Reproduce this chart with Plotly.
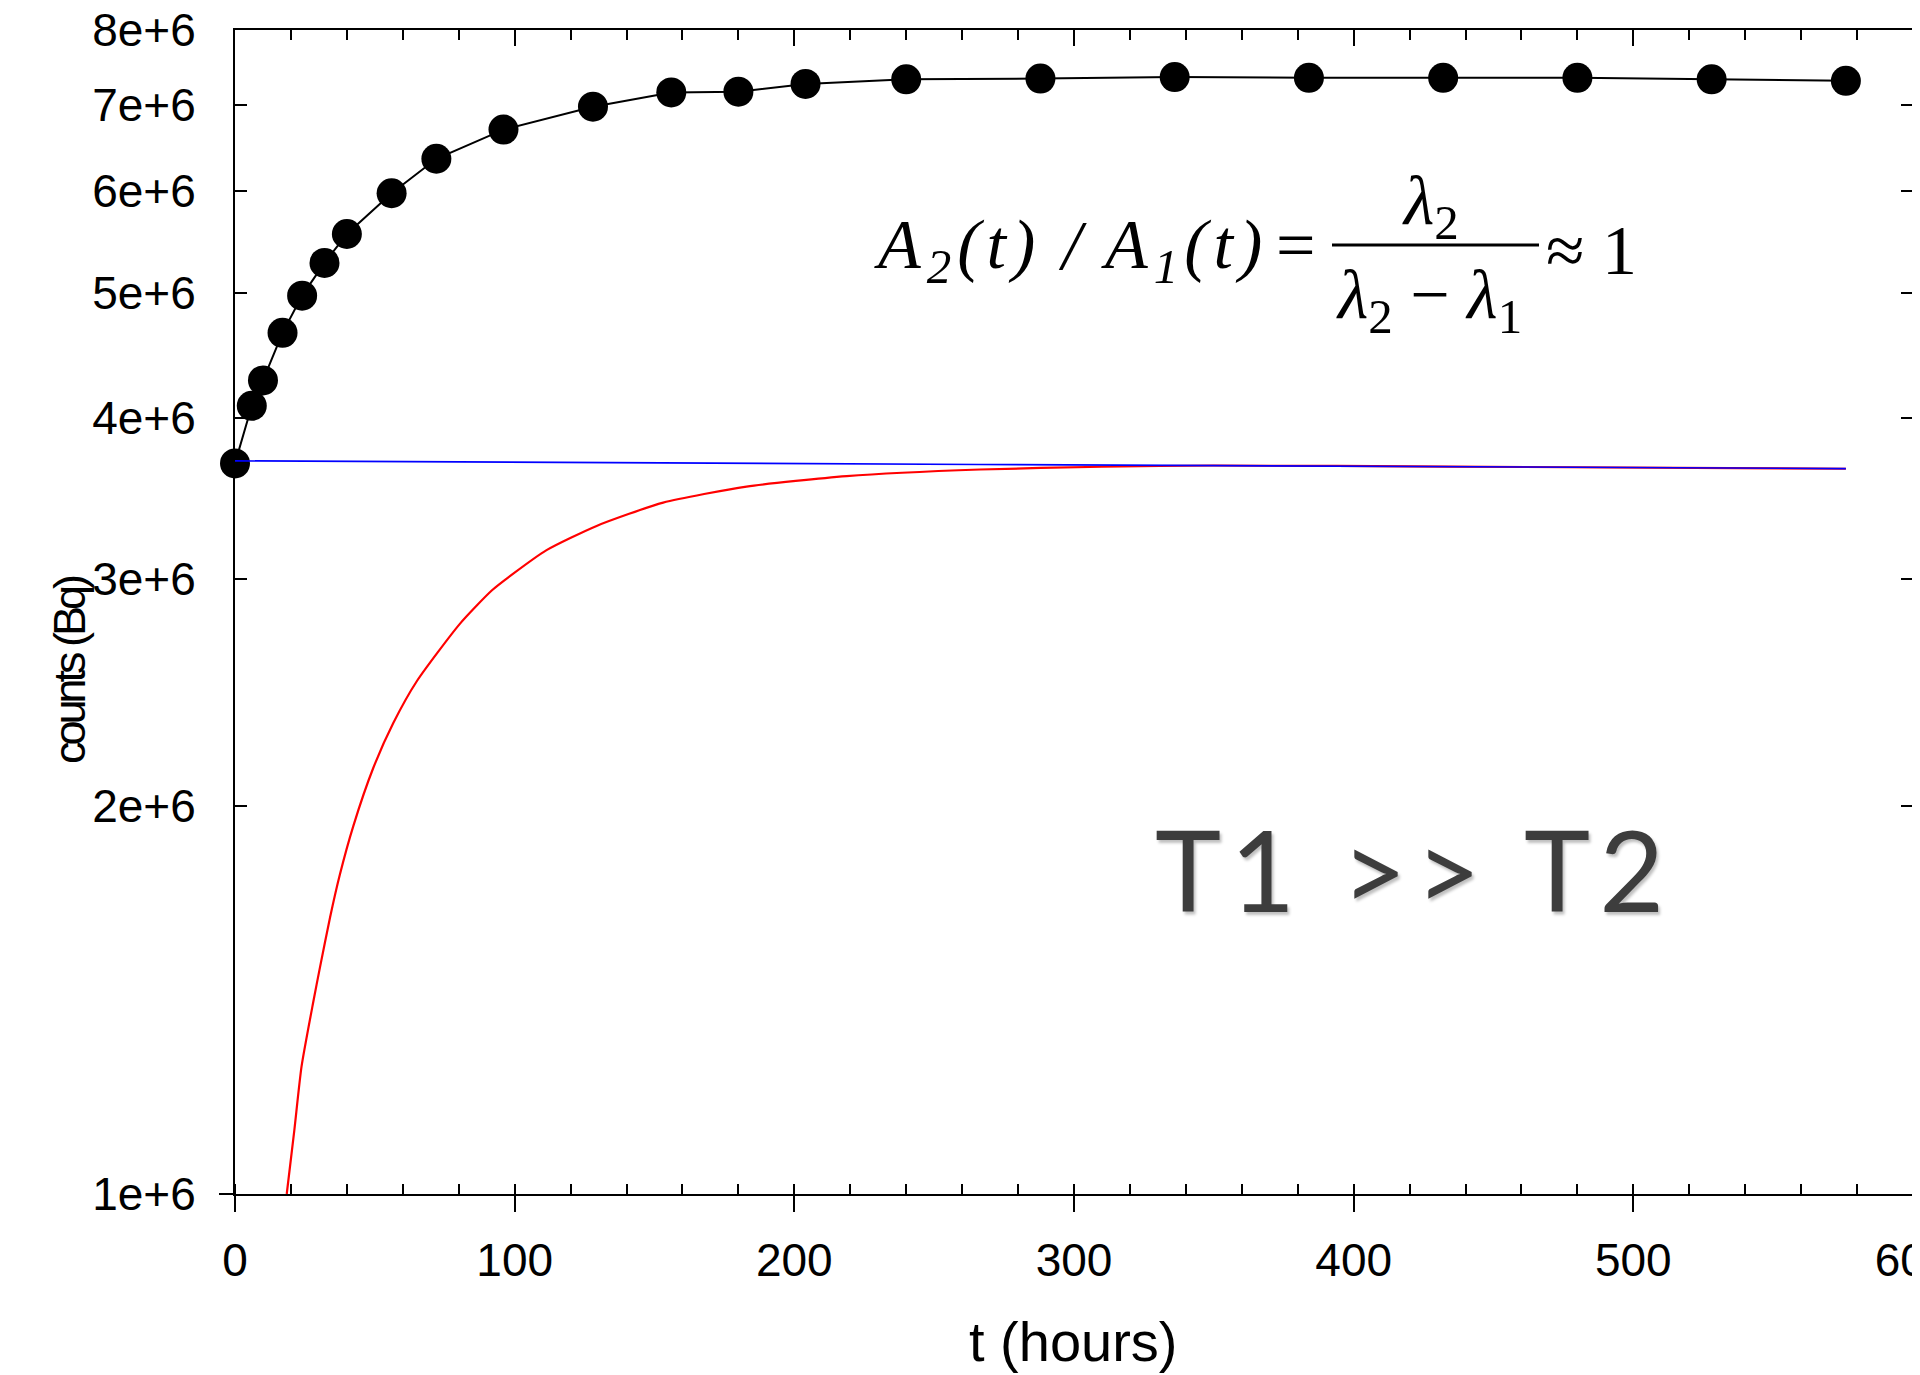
import math
import plotly.graph_objects as go

# ---------------- data ----------------
t_meas = [0, 6, 10, 17, 24, 32, 40, 56, 72, 96, 128, 156, 180, 204,
          240, 288, 336, 384, 432, 480, 528, 576]
counts_meas = [3.69e6, 4.09e6, 4.28e6, 4.66e6, 4.98e6, 5.28e6, 5.56e6, 5.98e6,
               6.36e6, 6.70e6, 6.98e6, 7.16e6, 7.17e6, 7.27e6, 7.33e6, 7.34e6,
               7.36e6, 7.35e6, 7.35e6, 7.35e6, 7.33e6, 7.31e6]

t_parent = [0, 88, 266, 576]
a_parent = [3.707e6, 3.700e6, 3.683e6, 3.656e6]

t_daughter = [18.5, 21.2, 23.8, 28.0, 30.4, 34.0, 37.5, 42.3, 49.4, 56.6, 65.0,
              80.4, 91.8, 99.5, 111.4, 129.3, 153.1, 182.9, 218.7, 266.4, 310,
              350, 434, 576]
a_daughter = [1.00e6, 1.12e6, 1.256e6, 1.41e6, 1.50e6, 1.64e6, 1.77e6, 1.93e6,
              2.14e6, 2.32e6, 2.50e6, 2.77e6, 2.94e6, 3.03e6, 3.16e6, 3.30e6,
              3.44e6, 3.54e6, 3.607e6, 3.65e6, 3.668e6, 3.676e6, 3.669e6, 3.655e6]

x_ticks = [0, 100, 200, 300, 400, 500, 600]
y_ticks = [1e6, 2e6, 3e6, 4e6, 5e6, 6e6, 7e6, 8e6]
y_ticktext = ["1e+6", "2e+6", "3e+6", "4e+6", "5e+6", "6e+6", "7e+6", "8e+6"]

# ---------------- layout geometry (page pixels; page body has 8px margin) ----
OFF = 8
W, H = 1912, 1367
L, R, T, B = 227, 7, 22, 181
PW, PH = W - L - R, H - T - B


def px(x):
    return (x - OFF - L) / PW


def py(y):
    return (OFF + H - B - y) / PH


fig = go.Figure()

fig.add_trace(go.Scatter(
    x=t_daughter, y=a_daughter, mode="lines",
    line=dict(color="#ff0000", width=2.2, shape="spline", smoothing=0.6),
    showlegend=False))
fig.add_trace(go.Scatter(
    x=t_parent, y=a_parent, mode="lines", xaxis="x2",
    line=dict(color="#0000ff", width=1.6), showlegend=False))
fig.add_trace(go.Scatter(
    x=t_meas, y=counts_meas, mode="lines+markers",
    line=dict(color="black", width=2),
    marker=dict(color="black", size=30), showlegend=False, cliponaxis=False))

tickfont = dict(family="Liberation Sans, Arial, sans-serif", size=46, color="black")

fig.update_layout(
    width=W, height=H, autosize=False,
    margin=dict(l=L, r=R, t=T, b=B, pad=0),
    paper_bgcolor="white", plot_bgcolor="white",
    xaxis=dict(
        range=[0, 600], tickvals=x_ticks, ticks="outside", ticklen=16, tickwidth=2,
        tickcolor="black", showline=True, linecolor="black", linewidth=2,
        showgrid=False, zeroline=False, tickfont=tickfont, ticklabelstandoff=9,
        ticklabeloverflow="allow", automargin=False,
        minor=dict(ticks="inside", ticklen=10, tickwidth=2, tickcolor="black",
                   dtick=20, tick0=0, showgrid=False),
    ),
    xaxis2=dict(
        range=[0, 600], overlaying="x", side="top", tickvals=x_ticks,
        ticks="inside", ticklen=16, tickwidth=2, tickcolor="black",
        showline=True, linecolor="black", linewidth=2, showgrid=False,
        zeroline=False, showticklabels=False, automargin=False,
        minor=dict(ticks="inside", ticklen=10, tickwidth=2, tickcolor="black",
                   dtick=20, tick0=0, showgrid=False),
    ),
    yaxis=dict(
        type="log", range=[6, math.log10(8e6) + 0.0003], tickvals=y_ticks,
        ticktext=y_ticktext,
        ticks="inside", ticklen=12, tickwidth=2, tickcolor="black",
        showline=True, linecolor="black", linewidth=2, mirror="ticks",
        showgrid=False, zeroline=False, tickfont=tickfont, ticklabelstandoff=28,
        ticklabeloverflow="allow", automargin=False,
    ),
)

serif = "Liberation Serif, Times New Roman, serif"
eq_size = 70
eqfont = dict(family=serif, size=eq_size, color="black")


def spaced(txt, sp):
    return '<span style="letter-spacing:%dpx">%s</span>' % (sp, txt)


annotations = [
    dict(x=px(69), y=py(670), text=spaced("counts (Bq)", -4), textangle=-90, showarrow=False,
         font=dict(family="Liberation Sans, Arial, sans-serif", size=45, color="black")),
    dict(x=px(1073), y=py(1341), text="t (hours)", showarrow=False,
         font=dict(family="Liberation Sans, Arial, sans-serif", size=56, color="black")),
    dict(x=px(957), y=py(250), text=spaced("<i>A<sub>2</sub>(t)</i>", 6), showarrow=False,
         font=eqfont),
    dict(x=px(1072), y=py(245), text="<i>/</i>", showarrow=False, font=eqfont),
    dict(x=px(1184), y=py(250), text=spaced("<i>A<sub>1</sub>(t)</i>", 6), showarrow=False,
         font=eqfont),
    dict(x=px(1295), y=py(245), text="=", showarrow=False, font=eqfont),
    dict(x=px(1430), y=py(206), text="<i>λ</i><sub>2</sub>", showarrow=False, font=eqfont),
    dict(x=px(1429), y=py(300), text="<i>λ</i><sub>2</sub> − <i>λ</i><sub>1</sub>",
         showarrow=False, font=eqfont),
    dict(x=px(1591), y=py(250), text="≈ 1", showarrow=False, font=eqfont),
    dict(x=px(1414), y=py(868), text=spaced("T1 >> T2", 9), showarrow=False,
         font=dict(family="Lato, Open Sans, sans-serif", size=112, color="#3d3d3d",
                   shadow="2px 3px 3px rgba(0,0,0,0.25)")),
]
for a in annotations:
    a.update(xref="paper", yref="paper", xanchor="center", yanchor="middle")
fig.update_layout(annotations=annotations)

fig.add_shape(type="line", xref="paper", yref="paper",
              x0=px(1332), x1=px(1539), y0=py(245), y1=py(245),
              line=dict(color="black", width=3))
# short outward tick at the 1e+6 label on the left axis
fig.add_shape(type="line", xref="paper", yref="paper",
              x0=px(219), x1=px(235), y0=0, y1=0,
              line=dict(color="black", width=2))

fig.write_html("out.html")
